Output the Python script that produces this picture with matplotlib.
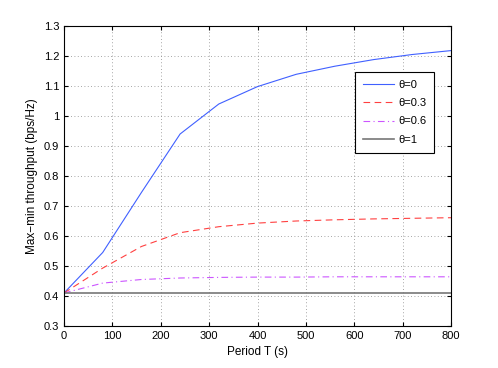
import matplotlib
matplotlib.use("Agg")
import matplotlib.pyplot as plt

T = [0, 80, 160, 240, 320, 400, 480, 560, 640, 720, 800]
th0 = [0.41, 0.545, 0.745, 0.94, 1.04, 1.098, 1.139, 1.166, 1.188, 1.205, 1.218]
th03 = [0.41, 0.493, 0.565, 0.611, 0.631, 0.643, 0.650, 0.654, 0.657, 0.659, 0.661]
th06 = [0.41, 0.443, 0.455, 0.460, 0.462, 0.463, 0.463, 0.464, 0.464, 0.464, 0.464]
th1 = [0.41] * len(T)
labels = ["θ=0", "θ=0.3", "θ=0.6", "θ=1"]

plt.rcParams['font.family'] = ['Liberation Sans', 'DejaVu Sans']
fig = plt.figure(figsize=(4.98, 3.68), dpi=100)
ax = fig.add_axes([64/498, 42/368, 387/498, 300/368])
ax.plot(T, th0, color='#4060ff', lw=0.8, label=labels[0])
ax.plot(T, th03, color='#ff4040', lw=0.8, ls=(0, (6, 4)), label=labels[1])
ax.plot(T, th06, color='#cc55ff', lw=0.8, ls=(0, (6, 3, 1, 3)), label=labels[2])
ax.plot(T, th1, color='#777777', lw=1.2, label=labels[3])
ax.set_xlim(0, 800)
ax.set_ylim(0.3, 1.3)
ax.set_xticks(range(0, 801, 100))
ax.set_yticks([0.3, 0.4, 0.5, 0.6, 0.7, 0.8, 0.9, 1.0, 1.1, 1.2, 1.3])
ax.set_yticklabels(['0.3', '0.4', '0.5', '0.6', '0.7', '0.8', '0.9', '1', '1.1', '1.2', '1.3'])
ax.tick_params(direction='in', labelsize=8, top=True, right=True, length=3)
ax.grid(True, ls=(0, (1, 3)), color='#888888', lw=0.6)
for s in ax.spines.values():
    s.set_linewidth(0.8)
ax.set_xlabel('Period T (s)', fontsize=8.5)
ax.set_ylabel('Max\u2212min throughput (bps/Hz)', fontsize=8.5)
leg = ax.legend(loc='upper right', bbox_to_anchor=((434-64)/387, 1 - (72-26)/300), bbox_transform=ax.transAxes,
                borderaxespad=0, fontsize=8, fancybox=False, edgecolor='black', framealpha=1,
                handlelength=2.8, handletextpad=0.4, borderpad=0.7, labelspacing=0.75)
leg.get_frame().set_linewidth(0.8)
fig.savefig('out.png', dpi=100)
